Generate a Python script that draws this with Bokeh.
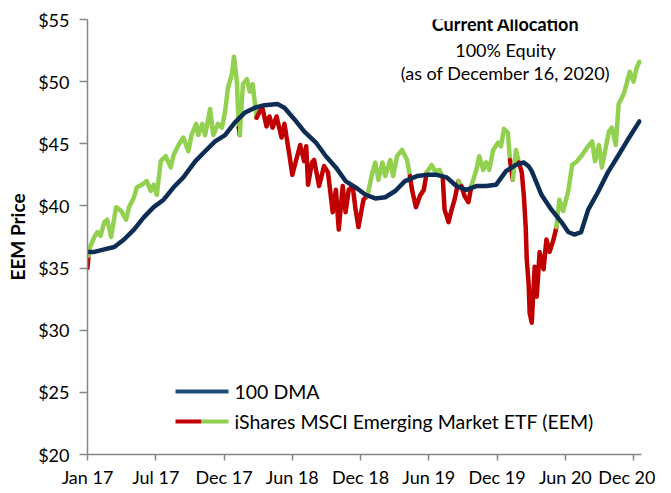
import numpy as np
from bokeh.plotting import figure
from bokeh.models import (Range1d, FixedTicker, PrintfTickFormatter, Label,
                          BoxAnnotation)
from bokeh.embed import file_html
from bokeh.resources import INLINE

# ---- data (x = weeks since 3 Jan 2017) ----
price_week = [0, 0.4, 0.8, 2.6, 3.8, 5.0, 6.4, 7.5, 9.0, 10.9, 12.8, 14.7, 15.8, 17.7, 18.8,
              20.7, 22.6, 24.1, 25.2, 26.4, 27.9, 29.8, 31.7, 32.8, 34.7, 36.5, 38.4, 39.6,
              41.4, 42.2, 43.7, 44.8, 46.7, 47.9, 49.7, 51.2, 52.4, 53.5, 55.0, 55.8, 56.9,
              57.6, 58.0, 59.2, 60.7, 61.8, 62.9, 64.4, 65.6, 66.7, 68.2, 69.3, 70.5, 72.0,
              73.9, 75.0, 76.9, 78.0, 79.5, 81.0, 82.5, 83.3, 84.0, 85.5, 86.3, 88.2, 90.1,
              91.6, 93.4, 94.6, 95.7, 97.2, 98.3, 99.5, 101.0, 102.1, 103.2, 105.1, 106.6,
              108.5, 109.6, 110.8, 112.3, 113.4, 115.3, 116.4, 117.9, 119.8, 121.7, 122.8,
              123.6, 125.1, 126.6, 128.1, 129.2, 131.1, 132.3, 134.1, 135.3, 136.0, 137.5,
              138.7, 139.8, 141.3, 142.4, 143.6, 145.1, 146.2, 148.1, 149.2, 150.7, 151.8,
              153.0, 154.5, 156.4, 157.5, 158.6, 160.1, 160.9, 162.0, 163.2, 164.3, 165.4,
              166.2, 166.9, 167.3, 168.0, 168.4, 169.2, 170.3, 171.1, 172.2, 173.7, 174.8,
              176.0, 177.5, 178.6, 179.7, 181.2, 183.1, 184.6, 186.5, 188.4, 190.3, 192.2,
              193.3, 194.8, 195.9, 197.1, 198.6, 199.7, 201.2, 202.3, 204.2, 205.3, 206.5,
              208.0, 209.1, 210.2]
price_val = [35.0, 36.0, 36.6, 37.5, 37.9, 37.6, 38.7, 38.9, 37.5, 39.9, 39.6, 38.9, 39.9, 40.7, 41.5,
             41.7, 42.0, 41.2, 41.7, 40.9, 43.6, 44.0, 43.1, 44.1, 44.9, 45.5, 44.4, 45.7,
             46.6, 45.7, 46.6, 45.7, 47.8, 45.7, 46.6, 46.3, 47.6, 49.5, 50.6, 52.0, 50.0,
             46.3, 45.7, 49.8, 50.2, 49.2, 49.8, 47.1, 47.6, 47.8, 46.4, 47.2, 46.3, 47.2,
             45.5, 46.6, 44.1, 42.5, 43.7, 44.9, 43.6, 44.8, 41.7, 43.5, 43.7, 41.6, 43.2,
             42.7, 39.5, 41.3, 38.1, 41.6, 39.5, 41.3, 41.6, 39.7, 38.3, 40.5, 40.8,
             42.7, 43.5, 42.1, 43.5, 42.4, 43.7, 42.4, 44.0, 44.5, 43.7, 42.4,
             41.3, 39.9, 40.8, 41.3, 42.7, 43.3, 42.8, 42.9, 42.3, 39.7, 38.7,
             39.7, 40.5, 42.0, 41.6, 40.8, 40.3, 41.6, 42.9, 44.0, 42.9, 43.5,
             42.9, 44.5, 45.1, 44.8, 46.2, 45.9, 43.7, 42.1, 44.5, 43.5, 42.7,
             40.8, 38.3, 35.7, 33.8, 31.4, 30.6, 35.1, 32.7, 36.3, 34.9, 37.3,
             36.3, 37.3, 38.3, 40.5, 39.6, 41.2, 43.3, 43.6, 44.1, 44.7, 45.2,
             43.6, 44.9, 43.1, 44.4, 46.0, 46.3, 44.9, 48.2, 49.0, 49.8, 50.8,
             50.0, 51.1, 51.6]
dma_week = [0, 2.6, 6.4, 10.2, 13.9, 17.7, 21.5, 25.2, 29.0, 32.8, 36.5, 41.1, 44.8, 48.6,
            52.4, 56.1, 59.9, 63.7, 67.4, 72.3, 75.0, 78.7, 82.5, 87.0, 90.8, 94.6, 98.3,
            102.1, 105.9, 109.6, 113.4, 117.2, 120.9, 125.5, 129.2, 133.0, 136.8, 140.5,
            144.3, 148.1, 151.8, 155.6, 159.4, 163.2, 166.2, 168.0, 169.2, 172.9, 176.7,
            180.5, 183.1, 185.4, 188.0, 190.7, 194.4, 198.2, 202.0, 205.7, 210.2]
dma_val = [36.3, 36.3, 36.5, 36.7, 37.3, 38.1, 39.1, 39.9, 40.5, 41.5, 42.3, 43.6, 44.4, 45.2,
           45.7, 46.7, 47.5, 47.9, 48.1, 48.2, 47.9, 47.0, 46.0, 45.1, 44.0, 43.1, 42.0,
           41.5, 40.9, 40.6, 40.7, 41.2, 42.0, 42.4, 42.5, 42.5, 42.3, 41.6,
           41.3, 41.6, 41.6, 41.7, 42.8, 43.3, 43.5, 43.2, 42.8, 40.9, 39.7,
           38.7, 37.9, 37.7, 37.9, 39.7, 41.1, 42.7, 44.0, 45.3, 46.8]
tick_weeks = [0, 26, 52, 78, 104, 130, 156, 182, 208]
tick_labels = ["Jan 17", "Jul 17", "Dec 17", "Jun 18", "Dec 18", "Jun 19", "Dec 19", "Jun 20", "Dec 20"]
y_ticks = [20, 25, 30, 35, 40, 45, 50, 55]

GREEN = "#92D050"
RED = "#C00000"
NAVY = "#0E2D55"
AXIS = "#868686"
FONT = "Lato"

FH = 435
p = figure(frame_width=554, frame_height=FH, output_backend="svg", toolbar_location=None,
           x_range=Range1d(0, 211), y_range=Range1d(20, 55),
           min_border_left=87, min_border_right=14, min_border_top=19, min_border_bottom=0)
p.outline_line_color = None
p.grid.visible = False
p.background_fill_color = "white"

# price coloured by position relative to 100 DMA
pw = np.array(price_week, dtype=float)
pv = np.array(price_val, dtype=float)
d_at = np.interp(pw, dma_week, dma_val)
seg_above = (pv[:-1] + pv[1:]) / 2 >= (d_at[:-1] + d_at[1:]) / 2
xs, ys, cols = [], [], []
start = 0
for i in range(1, len(seg_above) + 1):
    if i == len(seg_above) or seg_above[i] != seg_above[start]:
        xs.append(list(pw[start:i + 1]))
        ys.append(list(pv[start:i + 1]))
        cols.append(GREEN if seg_above[start] else RED)
        start = i
p.multi_line(xs, ys, line_color=cols, line_width=4.5, line_join="round", line_cap="round")
p.line(dma_week, dma_val, line_color=NAVY, line_width=4.5, line_join="round", line_cap="round")

# axes
p.xaxis.ticker = FixedTicker(ticks=tick_weeks)
p.xaxis.major_label_overrides = {w: lab for w, lab in zip(tick_weeks, tick_labels)}
p.yaxis.ticker = FixedTicker(ticks=y_ticks)
p.yaxis.formatter = PrintfTickFormatter(format="$%d")
for ax in (p.xaxis[0], p.yaxis[0]):
    ax.axis_line_color = AXIS
    ax.axis_line_width = 1.5
    ax.major_tick_line_color = AXIS
    ax.major_tick_line_width = 1.5
    ax.major_tick_in = 0
    ax.minor_tick_line_color = None
    ax.major_label_text_font = FONT
    ax.major_label_text_font_size = "18px"
    ax.major_label_text_color = "black"
p.xaxis.major_tick_out = 6
p.xaxis.major_label_standoff = 5
p.xaxis.axis_label_standoff = 0
p.yaxis.major_tick_out = 8
p.yaxis.major_label_standoff = 10
p.yaxis.axis_label = "EEM Price"
p.yaxis.axis_label_text_font = FONT
p.yaxis.axis_label_text_font_style = "bold"
p.yaxis.axis_label_text_font_size = "19px"
p.yaxis.axis_label_text_color = "black"
p.yaxis.axis_label_standoff = 6

# annotation text (screen units measured from frame bottom-left)
for txt, yy, style in [("Current Allocation", FH - 4, "bold"),
                       ("100% Equity", FH - 30, "normal"),
                       ("(as of December 16, 2020)", FH - 53, "normal")]:
    p.add_layout(Label(x=418, y=yy, x_units="screen", y_units="screen", text=txt,
                       text_align="center", text_baseline="middle", text_font=FONT,
                       text_font_style=style, text_font_size="18px", text_color="black"))

# legend (manual, split swatch)
def swatch(l, r, yc, color):
    p.add_layout(BoxAnnotation(left=l, right=r, bottom=yc - 2, top=yc + 2,
                               left_units="screen", right_units="screen",
                               bottom_units="screen", top_units="screen",
                               fill_color=color, fill_alpha=1, line_color=None))

swatch(88, 141, 63, "#1F4E79")
swatch(88, 114, 33, RED)
swatch(114, 141, 33, GREEN)
for txt, yy in [("100 DMA", 63), ("iShares MSCI Emerging Market ETF (EEM)", 33)]:
    p.add_layout(Label(x=147, y=yy, x_units="screen", y_units="screen", text=txt,
                       text_align="left", text_baseline="middle", text_font=FONT,
                       text_font_size="19.5px", text_color="black"))

open("out.html", "w").write(file_html(p, INLINE))
